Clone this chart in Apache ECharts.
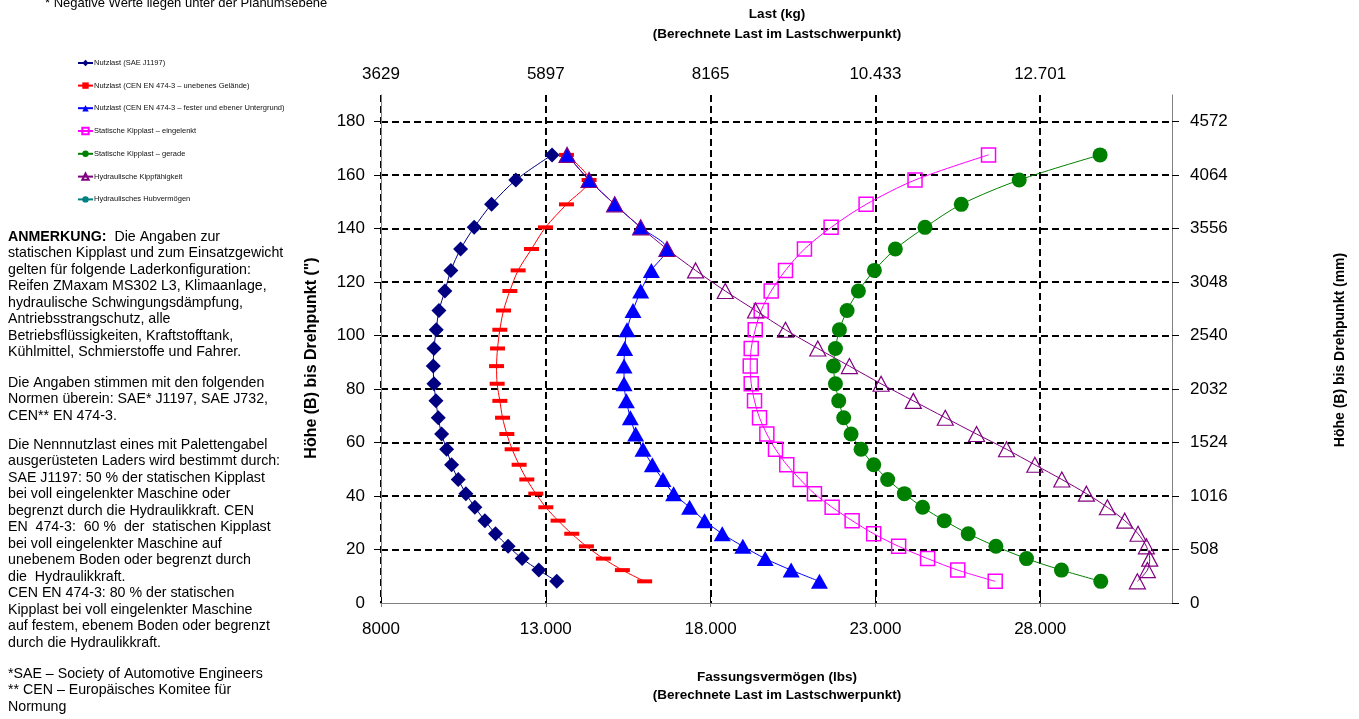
<!DOCTYPE html>
<html>
<head>
<meta charset="utf-8">
<script src="https://cdn.jsdelivr.net/npm/echarts@6/dist/echarts.min.js"></script>
<style>
  html, body { margin: 0; padding: 0; background: #fff; }
  #chart { width: 1359px; height: 719px; }
</style>
</head>
<body>
<div id="chart"></div>
<script>
// Höhe (B) bis Drehpunkt in Zoll, gleiche Stufen für alle Kurven
var heights = [167.6, 158.2, 149.1, 140.5, 132.4, 124.4, 116.7, 109.4, 102.2, 95.2, 88.6, 82.0, 75.6,
               69.3, 63.2, 57.5, 51.7, 46.2, 40.9, 35.8, 30.8, 25.9, 21.2, 16.6, 12.3, 8.1];

// Last in lbs je Höhe
var nutzlastSae = [13191, 12091, 11354, 10828, 10415, 10121, 9939, 9758, 9676, 9606, 9586, 9606, 9667,
                   9737, 9839, 9991, 10142, 10343, 10576, 10848, 11152, 11475, 11858, 12282, 12788, 13333];
var nutzlastCenUneben = [13627, 14313, 13627, 12991, 12567, 12161, 11909, 11718, 11606, 11536, 11506, 11524, 11606,
                         11688, 11818, 11979, 12191, 12424, 12697, 13000, 13373, 13788, 14233, 14748, 15324, 16000];
var nutzlastCenFest = [13647, 14313, 15091, 15879, 16677, 16203, 15879, 15646, 15464, 15394, 15374, 15374, 15445,
                       15566, 15727, 15949, 16233, 16555, 16879, 17364, 17818, 18354, 18979, 19657, 20445, 21303];
var kippEingelenkt = [26433, 24203, 22718, 21657, 20848, 20273, 19839, 19536, 19355, 19233, 19203, 19233, 19333,
                      19485, 19707, 19970, 20312, 20718, 21152, 21688, 22294, 22949, 23706, 24585, 25500, 26636];
var kippGerade = [29818, 27364, 25606, 24506, 23606, 22970, 22485, 22142, 21909, 21788, 21727, 21788, 21888,
                  22039, 22263, 22566, 22949, 23373, 23879, 24433, 25091, 25818, 26657, 27585, 28646, 29839];
var hydrKipp = [13647, 14313, 15091, 15879, 16677, 17545, 18445, 19364, 20273, 21252, 22212, 23173, 24152,
                25121, 26070, 26979, 27839, 28657, 29403, 30040, 30566, 30970, 31222, 31324, 31252, 30949];
var hydrHub = [];

// Achsbeschriftungen
var lbsTicks = [8000, 13000, 18000, 23000, 28000];
var lbsLabels = ['8000', '13.000', '18.000', '23.000', '28.000'];
var kgLabels = ['3629', '5897', '8165', '10.433', '12.701'];
var inchTicks = [0, 20, 40, 60, 80, 100, 120, 140, 160, 180];
var mmLabels = ['0', '508', '1016', '1524', '2032', '2540', '3048', '3556', '4064', '4572'];

var FONT = 'Liberation Sans, Arial, sans-serif';

function pairs(vals) {
  return vals.map(function (v, i) { return [v, heights[i]]; });
}

var chart = echarts.init(document.getElementById('chart'));

var dashed = { type: [7, 4], color: '#000', width: 2 };
var grey = { color: '#808080', width: 1 };

var option = {
  animation: false,
  backgroundColor: '#fff',
  grid: { left: 381, right: 187, top: 95, bottom: 116, containLabel: false },
  legend: {
    orient: 'vertical',
    left: 72,
    top: 54,
    itemWidth: 15,
    itemHeight: 8,
    itemGap: 14.6,
    textStyle: { fontSize: 7.5, fontFamily: FONT, color: '#111', padding: [0, 0, 0, -4] }
  },
  xAxis: [
    {
      type: 'value', position: 'bottom', min: 8000, max: 32000, interval: 5000,
      axisLine: { show: true, lineStyle: grey },
      axisTick: { show: true, length: 4, lineStyle: grey, customValues: lbsTicks },
      axisLabel: {
        margin: 18, fontSize: 17, fontFamily: FONT, color: '#000', customValues: lbsTicks,
        formatter: function (v) { return lbsLabels[lbsTicks.indexOf(v)]; }
      },
      splitLine: { show: true, lineStyle: dashed }
    },
    {
      type: 'value', position: 'top', min: 8000, max: 32000, interval: 5000,
      axisLine: { show: true, lineStyle: grey },
      axisTick: { show: true, length: 6, lineStyle: { color: '#000', width: 1 }, customValues: lbsTicks },
      axisLabel: {
        margin: 12, fontSize: 17, fontFamily: FONT, color: '#000', customValues: lbsTicks,
        formatter: function (v) { return kgLabels[lbsTicks.indexOf(v)]; }
      },
      splitLine: { show: false }
    }
  ],
  yAxis: [
    {
      type: 'value', position: 'left', min: 0, max: 190, interval: 20,
      axisLine: { show: true, lineStyle: grey },
      // Gitterlinien folgen den Ticks; 0 liegt auf der Rahmenlinie
      axisTick: { show: true, length: 7, lineStyle: { color: '#000', width: 1 }, customValues: inchTicks.slice(1) },
      axisLabel: {
        margin: 16, fontSize: 17, fontFamily: FONT, color: '#000', customValues: inchTicks,
        formatter: function (v) { return String(v); }
      },
      splitLine: { show: true, lineStyle: dashed }
    },
    {
      type: 'value', position: 'right', min: 0, max: 190, interval: 20,
      axisLine: { show: true, lineStyle: grey },
      axisTick: { show: true, length: 7, lineStyle: { color: '#000', width: 1 }, customValues: inchTicks },
      axisLabel: {
        margin: 18, fontSize: 17, fontFamily: FONT, color: '#000', customValues: inchTicks,
        formatter: function (v) { return mmLabels[inchTicks.indexOf(v)]; }
      },
      splitLine: { show: false }
    }
  ],
  graphic: [
    { type: 'text', x: 45, y: 3, style: { text: '* Negative Werte liegen unter der Planumsebene', font: '13px ' + FONT, fill: '#000', verticalAlign: 'middle' } },
    { type: 'text', x: 777, y: 14, style: { text: 'Last (kg)', font: 'bold 13.5px ' + FONT, fill: '#000', align: 'center', verticalAlign: 'middle' } },
    { type: 'text', x: 777, y: 34, style: { text: '(Berechnete Last im Lastschwerpunkt)', font: 'bold 13.5px ' + FONT, fill: '#000', align: 'center', verticalAlign: 'middle' } },
    { type: 'text', x: 777, y: 677, style: { text: 'Fassungsvermögen (lbs)', font: 'bold 13.5px ' + FONT, fill: '#000', align: 'center', verticalAlign: 'middle' } },
    { type: 'text', x: 777, y: 695, style: { text: '(Berechnete Last im Lastschwerpunkt)', font: 'bold 13.5px ' + FONT, fill: '#000', align: 'center', verticalAlign: 'middle' } },
    { type: 'text', x: 312, y: 358, rotation: Math.PI / 2, style: { text: 'Höhe (B) bis Drehpunkt (")', font: 'bold 16px ' + FONT, fill: '#000', align: 'center', verticalAlign: 'middle' } },
    { type: 'text', x: 1340, y: 350, rotation: Math.PI / 2, style: { text: 'Höhe (B) bis Drehpunkt (mm)', font: 'bold 14px ' + FONT, fill: '#000', align: 'center', verticalAlign: 'middle' } },
    {
      type: 'text', x: 8, y: 228.75,
      style: {
        text: '{b|ANMERKUNG:}  Die Angaben zur\nstatischen Kipplast und zum Einsatzgewicht\ngelten für folgende Laderkonfiguration:\n' +
              'Reifen ZMaxam MS302 L3, Klimaanlage,\nhydraulische Schwingungsdämpfung,\nAntriebsstrangschutz, alle\n' +
              'Betriebsflüssigkeiten, Kraftstofftank,\nKühlmittel, Schmierstoffe und Fahrer.',
        fontSize: 14.2, fontFamily: FONT, lineHeight: 16.5, fill: '#000',
        rich: { b: { fontWeight: 'bold', fontSize: 14.2, fontFamily: FONT, lineHeight: 16.5, fill: '#000' } }
      }
    },
    {
      type: 'text', x: 8, y: 374.75,
      style: {
        text: 'Die Angaben stimmen mit den folgenden\nNormen überein: SAE* J1197, SAE J732,\nCEN** EN 474-3.',
        fontSize: 14.2, fontFamily: FONT, lineHeight: 16.5, fill: '#000'
      }
    },
    {
      type: 'text', x: 8, y: 436.75,
      style: {
        text: 'Die Nennnutzlast eines mit Palettengabel\nausgerüsteten Laders wird bestimmt durch:\nSAE J1197: 50 % der statischen Kipplast\n' +
              'bei voll eingelenkter Maschine oder\nbegrenzt durch die Hydraulikkraft. CEN\nEN  474-3:  60 %  der  statischen Kipplast\n' +
              'bei voll eingelenkter Maschine auf\nunebenem Boden oder begrenzt durch\ndie  Hydraulikkraft.\n' +
              'CEN EN 474-3: 80 % der statischen\nKipplast bei voll eingelenkter Maschine\nauf festem, ebenem Boden oder begrenzt\ndurch die Hydraulikkraft.',
        fontSize: 14.2, fontFamily: FONT, lineHeight: 16.5, fill: '#000'
      }
    },
    {
      type: 'text', x: 8, y: 665.75,
      style: {
        text: '*SAE – Society of Automotive Engineers\n** CEN – Europäisches Komitee für\nNormung',
        fontSize: 14.2, fontFamily: FONT, lineHeight: 16.5, fill: '#000'
      }
    }
  ],
  series: [
    {
      name: 'Nutzlast (SAE J1197)', type: 'line', data: pairs(nutzlastSae), smooth: 0.3,
      symbol: 'diamond', symbolSize: 15,
      lineStyle: { color: '#000080', width: 1 }, itemStyle: { color: '#000080' }
    },
    {
      name: 'Nutzlast (CEN EN 474-3 – unebenes Gelände)', type: 'line', data: pairs(nutzlastCenUneben), smooth: 0.3,
      symbol: 'rect', symbolSize: [15, 4],
      lineStyle: { color: '#ff0000', width: 1 }, itemStyle: { color: '#ff0000' }
    },
    {
      name: 'Nutzlast (CEN EN 474-3 – fester und ebener Untergrund)', type: 'line', data: pairs(nutzlastCenFest), smooth: 0.3,
      symbol: 'triangle', symbolSize: [17, 15],
      lineStyle: { color: '#0000ff', width: 1 }, itemStyle: { color: '#0000ff' }
    },
    {
      name: 'Statische Kipplast – eingelenkt', type: 'line', data: pairs(kippEingelenkt), smooth: 0.3,
      symbol: 'rect', symbolSize: 14,
      lineStyle: { color: '#ff00ff', width: 1 },
      itemStyle: { color: 'rgba(255,255,255,0)', borderColor: '#ff00ff', borderWidth: 1.5 }
    },
    {
      name: 'Statische Kipplast – gerade', type: 'line', data: pairs(kippGerade), smooth: 0.3,
      symbol: 'circle', symbolSize: 15,
      lineStyle: { color: '#008000', width: 1 }, itemStyle: { color: '#008000' }
    },
    {
      name: 'Hydraulische Kippfähigkeit', type: 'line', data: pairs(hydrKipp), smooth: 0.3,
      symbol: 'triangle', symbolSize: [16, 15],
      lineStyle: { color: '#800080', width: 1 },
      itemStyle: { color: 'rgba(255,255,255,0)', borderColor: '#800080', borderWidth: 1.2 }
    },
    {
      name: 'Hydraulisches Hubvermögen', type: 'line', data: hydrHub,
      symbol: 'circle', symbolSize: 5,
      lineStyle: { color: '#008080', width: 1 }, itemStyle: { color: '#008080' }
    }
  ]
};

chart.setOption(option);
</script>
</body>
</html>
